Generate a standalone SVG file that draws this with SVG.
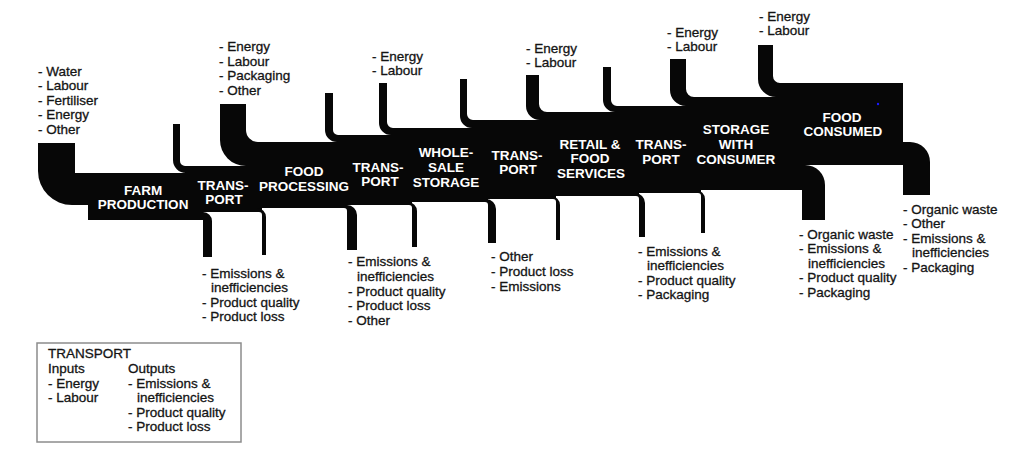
<svg xmlns="http://www.w3.org/2000/svg" width="1024" height="450" viewBox="0 0 1024 450">
<style>
.blk{fill:#070707}
.lbl{font-family:"Liberation Sans",Arial,sans-serif;font-weight:bold;font-size:13.5px;fill:#fff;text-anchor:middle}
.lst{font-family:"Liberation Sans",Arial,sans-serif;font-size:13.5px;fill:#141414;stroke:#141414;stroke-width:0.3}
</style>
<rect width="1024" height="450" fill="#fff"/>
<g id="band">
<polygon class="blk" points="88,173 185,173 185,166 258,166 258,142 338,142 338,135 393,135 393,128 473,128 473,120 547,120 547,112 617,112 617,106 694,106 694,97 780,97 780,83 903,83 903,165 802,165 802,190 701,190 701,193 639,193 639,196 556,196 556,199 488,199 488,202 412,202 412,205 347,205 347,208 262,208 262,212 203,212 203,220 88,220"/>
</g>
<g id="connectors">
<path class="blk" d="M38,143 H75 V173 H92 V205 H72 A34,34 0 0 1 38,171 Z"/>
<path class="blk" d="M173,124 H180 V161 A5,5 0 0 0 185,166 H188 V173 H186 A13,13 0 0 1 173,160 Z"/>
<path class="blk" d="M220,104 H246 V130 A12,12 0 0 0 258,142 H260 V166 H246 A26,26 0 0 1 220,140 Z"/>
<path class="blk" d="M325,93 H333 V130 A5,5 0 0 0 338,135 H340 V142 H337 A12,12 0 0 1 325,130 Z"/>
<path class="blk" d="M379,83 H387 V122 A6,6 0 0 0 393,128 H395 V135 H391 A12,12 0 0 1 379,123 Z"/>
<path class="blk" d="M460,79 H467 V114 A6,6 0 0 0 473,120 H475 V128 H472 A12,12 0 0 1 460,116 Z"/>
<path class="blk" d="M526,75 H539 V104 A8,8 0 0 0 547,112 H549 V120 H540 A14,14 0 0 1 526,106 Z"/>
<path class="blk" d="M603,67 H611 V100 A6,6 0 0 0 617,106 H619 V112 H615 A12,12 0 0 1 603,100 Z"/>
<path class="blk" d="M670,59 H686 V89 A8,8 0 0 0 694,97 H696 V106 H686 A16,16 0 0 1 670,90 Z"/>
<path class="blk" d="M758,45 H773 V76 A7,7 0 0 0 780,83 H782 V97 H776 A18,18 0 0 1 758,79 Z"/>
<path class="blk" d="M201,212 H203 A9,9 0 0 1 212,221 V257 H203 V220 H201 Z"/>
<path class="blk" d="M255,208 H257 A9,9 0 0 1 266,217 V255 H262 V215 A3,3 0 0 0 259,212 H255 Z"/>
<path class="blk" d="M343,205 H347 A10,10 0 0 1 357,215 V250 H347 V211 A3,3 0 0 0 344,208 H343 Z"/>
<path class="blk" d="M406,202 H408 A9,9 0 0 1 417,211 V247 H412 V208 A3,3 0 0 0 409,205 H406 Z"/>
<path class="blk" d="M484,199 H486 A10,10 0 0 1 496,209 V243 H488 V205 A3,3 0 0 0 485,202 H484 Z"/>
<path class="blk" d="M549,196 H551 A9,9 0 0 1 560,205 V240 H556 V202 A3,3 0 0 0 553,199 H549 Z"/>
<path class="blk" d="M633,193 H635 A10,10 0 0 1 645,203 V237 H639 V199 A3,3 0 0 0 636,196 H633 Z"/>
<path class="blk" d="M694,190 H696 A9,9 0 0 1 705,199 V233 H701 V196 A3,3 0 0 0 698,193 H694 Z"/>
<path class="blk" d="M800,165 H805 A20,20 0 0 1 825,185 V220 H802 V190 H800 Z"/>
<path class="blk" d="M880,142 H910 A20,20 0 0 1 930,162 V195 H903 V165 H880 Z"/>
</g>
<g id="farm">
<text class="lbl"><tspan x="143" y="195">FARM</tspan><tspan x="143" y="209">PRODUCTION</tspan></text>
<text class="lst"><tspan x="38" y="75.5">- Water</tspan><tspan x="38" y="90">- Labour</tspan><tspan x="38" y="104.5">- Fertiliser</tspan><tspan x="38" y="119">- Energy</tspan><tspan x="38" y="133.5">- Other</tspan></text>
<text class="lst"><tspan x="202" y="277.5">- Emissions &amp;</tspan><tspan x="211" y="292">inefficiencies</tspan><tspan x="202" y="306.5">- Product quality</tspan><tspan x="202" y="321">- Product loss</tspan></text>
</g>
<g id="transport1">
<text class="lbl"><tspan x="223" y="190">TRANS-</tspan><tspan x="224" y="204">PORT</tspan></text>
</g>
<g id="food-processing">
<text class="lbl"><tspan x="304" y="176">FOOD</tspan><tspan x="304" y="191">PROCESSING</tspan></text>
<text class="lst"><tspan x="219" y="51">- Energy</tspan><tspan x="219" y="65.5">- Labour</tspan><tspan x="219" y="80">- Packaging</tspan><tspan x="219" y="94.5">- Other</tspan></text>
<text class="lst"><tspan x="348" y="266">- Emissions &amp;</tspan><tspan x="357" y="280.5">inefficiencies</tspan><tspan x="348" y="295.5">- Product quality</tspan><tspan x="348" y="310">- Product loss</tspan><tspan x="348" y="325">- Other</tspan></text>
</g>
<g id="transport2">
<text class="lbl"><tspan x="378" y="172">TRANS-</tspan><tspan x="380" y="186">PORT</tspan></text>
</g>
<g id="wholesale-storage">
<text class="lbl"><tspan x="446" y="157">WHOLE-</tspan><tspan x="446" y="172">SALE</tspan><tspan x="446" y="187">STORAGE</tspan></text>
<text class="lst"><tspan x="372" y="60.5">- Energy</tspan><tspan x="372" y="75">- Labour</tspan></text>
<text class="lst"><tspan x="491" y="260.5">- Other</tspan><tspan x="491" y="275.5">- Product loss</tspan><tspan x="491" y="290.5">- Emissions</tspan></text>
</g>
<g id="transport3">
<text class="lbl"><tspan x="517" y="160">TRANS-</tspan><tspan x="518" y="174">PORT</tspan></text>
</g>
<g id="retail">
<text class="lbl"><tspan x="590" y="149">RETAIL &amp;</tspan><tspan x="590" y="163">FOOD</tspan><tspan x="591" y="178">SERVICES</tspan></text>
<text class="lst"><tspan x="526" y="52.5">- Energy</tspan><tspan x="526" y="67">- Labour</tspan></text>
<text class="lst"><tspan x="638" y="255.5">- Emissions &amp;</tspan><tspan x="647" y="270">inefficiencies</tspan><tspan x="638" y="284.5">- Product quality</tspan><tspan x="638" y="299">- Packaging</tspan></text>
</g>
<g id="transport4">
<text class="lbl"><tspan x="661" y="149">TRANS-</tspan><tspan x="661" y="164">PORT</tspan></text>
</g>
<g id="storage-consumer">
<text class="lbl"><tspan x="736" y="134">STORAGE</tspan><tspan x="736" y="149">WITH</tspan><tspan x="736" y="164">CONSUMER</tspan></text>
<text class="lst"><tspan x="667" y="36.5">- Energy</tspan><tspan x="667" y="51">- Labour</tspan></text>
<text class="lst"><tspan x="799" y="238.5">- Organic waste</tspan><tspan x="799" y="253">- Emissions &amp;</tspan><tspan x="808" y="267.5">inefficiencies</tspan><tspan x="799" y="282">- Product quality</tspan><tspan x="799" y="296.5">- Packaging</tspan></text>
</g>
<g id="food-consumed">
<text class="lbl"><tspan x="842" y="122">FOOD</tspan><tspan x="843" y="136">CONSUMED</tspan></text>
<circle cx="878" cy="104" r="1.2" fill="#1a1aff"/>
<text class="lst"><tspan x="759" y="20.5">- Energy</tspan><tspan x="759" y="35">- Labour</tspan></text>
<text class="lst"><tspan x="903" y="213.5">- Organic waste</tspan><tspan x="903" y="228">- Other</tspan><tspan x="903" y="242.5">- Emissions &amp;</tspan><tspan x="912" y="257">inefficiencies</tspan><tspan x="903" y="271.5">- Packaging</tspan></text>
</g>
<g id="legend">
<rect x="37" y="343" width="204" height="99" fill="none" stroke="#8c8c8c" stroke-width="1.5"/>
<text class="lst"><tspan x="48" y="357.5">TRANSPORT</tspan><tspan x="48" y="372.5">Inputs</tspan><tspan x="48" y="387.5">- Energy</tspan><tspan x="48" y="402">- Labour</tspan></text>
<text class="lst"><tspan x="128" y="372.5">Outputs</tspan><tspan x="128" y="387.5">- Emissions &amp;</tspan><tspan x="137" y="402">inefficiencies</tspan><tspan x="128" y="416.5">- Product quality</tspan><tspan x="128" y="431">- Product loss</tspan></text>
</g>
</svg>
